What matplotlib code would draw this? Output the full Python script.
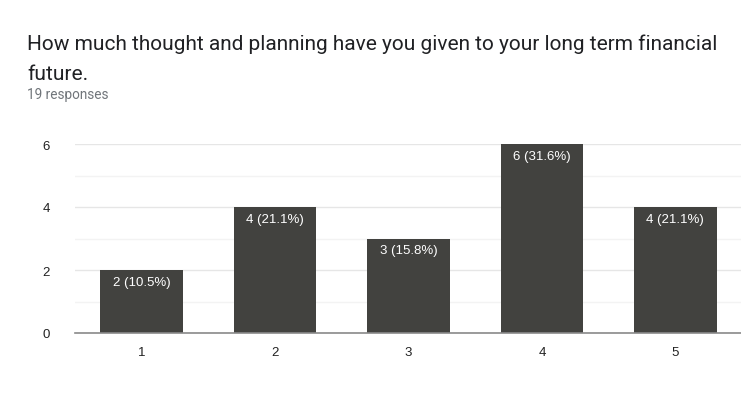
import matplotlib
matplotlib.use("Agg")
import matplotlib.pyplot as plt

# survey answers (Google Forms linear scale 1-5)
categories = ["1", "2", "3", "4", "5"]
counts = [2, 4, 3, 6, 4]
pct_labels = ["2 (10.5%)", "4 (21.1%)", "3 (15.8%)", "6 (31.6%)", "4 (21.1%)"]
y_ticks = [0, 2, 4, 6]
minor_ticks = [1, 3, 5]

plt.rcParams["font.family"] = ["Roboto", "DejaVu Sans"]
chart_font = ["Liberation Sans", "DejaVu Sans"]

fig = plt.figure(figsize=(7.41, 4.14), dpi=100)
ax = fig.add_axes([75 / 741, 1 - 334 / 414, (742 - 75) / 741, (334 - 145) / 414])

x = list(range(len(categories)))
bars = ax.bar(x, counts, width=0.62, color="#42423f", zorder=3)

for rect, lab in zip(bars, pct_labels):
    ax.annotate(lab, (rect.get_x() + rect.get_width() / 2, rect.get_height()),
                xytext=(0, -4), textcoords="offset points",
                ha="center", va="top", color="white", fontsize=9.5,
                family=chart_font, zorder=4)

ax.set_xlim(-0.5, 4.5)
ax.set_ylim(0, 6)
ax.set_xticks(x)
ax.set_xticklabels(categories, family=chart_font)
ax.set_yticks(y_ticks)
ax.set_yticklabels([str(v) for v in y_ticks], family=chart_font)
ax.set_yticks(minor_ticks, minor=True)
ax.grid(axis="y", which="major", color="#e6e6e6", linewidth=1, zorder=0)
ax.grid(axis="y", which="minor", color="#f3f3f3", linewidth=1, zorder=0)
for side in ["top", "right", "left"]:
    ax.spines[side].set_visible(False)
ax.spines["bottom"].set_color("#8a8a8a")
ax.spines["bottom"].set_linewidth(1.2)
ax.spines["bottom"].set_zorder(5)
ax.tick_params(axis="both", which="both", length=0, labelsize=9.5, colors="#222222")
ax.tick_params(axis="x", pad=9)
ax.tick_params(axis="y", pad=18)

fig.text(27 / 741, 1 - 44 / 414, "How much thought and planning have you given to your long term financial",
         fontsize=15, color="#202124", va="center", ha="left")
fig.text(27 / 741, 1 - 74 / 414, "future.", fontsize=15, color="#202124", va="center", ha="left")
fig.text(27 / 741, 1 - 95 / 414, "19 responses", fontsize=9.8, color="#70757a", va="center", ha="left")

fig.savefig("out.png", dpi=100, facecolor="white")
